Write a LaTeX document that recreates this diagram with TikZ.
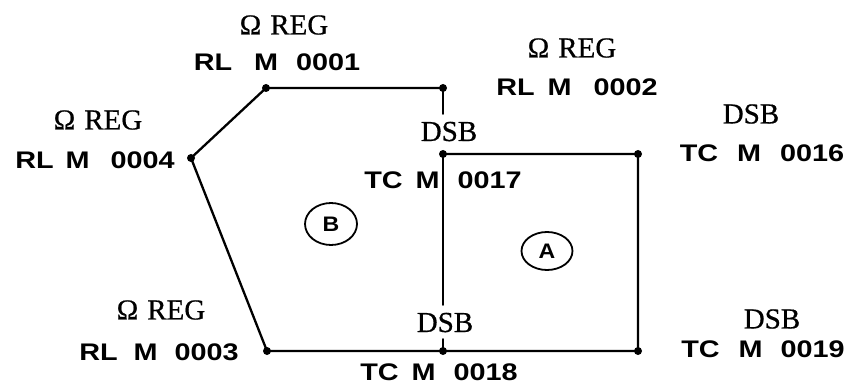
\documentclass[tikz,border=0pt]{standalone}
\usepackage{fontspec}
\setmainfont{Liberation Serif}[FakeBold=0.6]
\newfontfamily\labfont{Liberation Sans}[FakeStretch=1.2]
\newfontfamily\zonefont{Liberation Sans}[FakeStretch=1.1]
\usetikzlibrary{shapes.geometric}
\newcommand{\mlab}[4]{#1\hspace{#2pt}M\hspace{#3pt}#4}
\newcommand{\omreg}{Ω\hspace{9pt}REG}
\tikzset{
  wire/.style={line width=2.3pt, line cap=round, line join=round},
  vdot/.style={circle, fill=black, inner sep=0pt, minimum size=8pt},
  serif/.style={font=\fontsize{29}{31}\selectfont, inner sep=0pt},
  code/.style={font=\labfont\bfseries\fontsize{24}{26}\selectfont, inner sep=0pt},
  dsbv/.style={font=\fontsize{29}{31}\selectfont, inner xsep=0pt, inner ysep=7pt, text height=20pt, text depth=0pt},
  zone/.style={draw, ellipse, line width=1.8pt, inner sep=0pt, font=\zonefont\bfseries\fontsize{21}{23}\selectfont}
}
\begin{document}
\begin{tikzpicture}[x=1pt,y=-1pt]
\useasboundingbox (0,0) rectangle (854,385);
% vertices
\coordinate (p1) at (266,88);
\coordinate (p2) at (443,88);
\coordinate (p4) at (191,158);
\coordinate (p3) at (267,351);
\coordinate (p17) at (443,154);
\coordinate (p16) at (638,154);
\coordinate (p18) at (443,351);
\coordinate (p19) at (638,351);
% DSB labels on the vertical line
\node[dsbv] (dsb17) at (449,131) {DSB};
\node[dsbv] (dsb18) at (445,322) {DSB};
% lines
\draw[wire] (p4) -- (p1) -- (p2);
\draw[wire] (p2) -- (p2 |- dsb17.north);
\draw[wire] (p17) -- (p17 |- dsb18.north);
\draw[wire] (p18 |- dsb18.south) -- (p18);
\draw[wire] (p4) -- (p3) -- (p18) -- (p19) -- (p16) -- (p17);
% dots
\foreach \p in {p1,p2,p3,p4,p16,p17,p18,p19}
  \node[vdot] (d\p) at (\p) {};
% labels
\node[serif] (om1) at (284,25) {\omreg};
\node[code] (c1) at (277,62) {\mlab{RL}{22}{18}{0001}};
\node[serif] (om2) at (572,48) {\omreg};
\node[code] (c2) at (577,87) {\mlab{RL}{13}{22}{0002}};
\node[serif] (om4) at (98,120) {\omreg};
\node[code] (c4) at (95,160) {\mlab{RL}{12}{21}{0004}};
\node[serif] (om3) at (161,310) {\omreg};
\node[code] (c3) at (159,352) {\mlab{RL}{16}{17}{0003}};
\node[serif] (dsb16) at (751,114) {DSB};
\node[code] (c16) at (762,153) {\mlab{TC}{19}{19}{0016}};
\node[code] (c17) at (443,180) {\mlab{TC}{13}{18}{0017}};
\node[code] (c18) at (439,372) {\mlab{TC}{13}{18}{0018}};
\node[serif] (dsb19) at (772,319) {DSB};
\node[code] (c19) at (763,349) {\mlab{TC}{19}{18}{0019}};
% zones
\node[zone, minimum width=52pt, minimum height=42pt] (zB) at (331,224) {B};
\node[zone, minimum width=51pt, minimum height=38pt] (zA) at (547,251) {A};
\end{tikzpicture}
\end{document}
